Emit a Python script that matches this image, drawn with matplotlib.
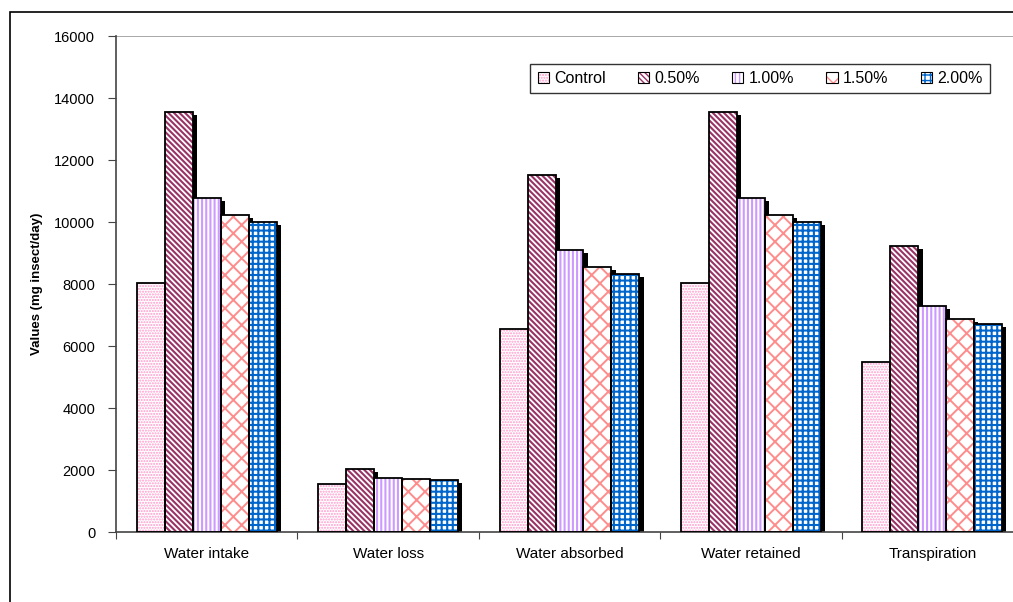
import matplotlib
matplotlib.use('Agg')
import matplotlib.pyplot as plt
from matplotlib.patches import Rectangle, Patch
import numpy as np

categories = ['Water intake', 'Water loss', 'Water absorbed', 'Water retained', 'Transpiration']
series_names = ['Control', '0.50%', '1.00%', '1.50%', '2.00%']

control = [8040, 1540, 6560, 8040, 5470]
conc_050 = [13540, 2020, 11520, 13540, 9240]
conc_100 = [10780, 1750, 9090, 10780, 7290]
conc_150 = [10240, 1710, 8540, 10240, 6880]
conc_200 = [10010, 1670, 8330, 10010, 6720]

values = [control, conc_050, conc_100, conc_150, conc_200]

# hatch styles picked to look like the old excel fill patterns
hatch_colors = ['#ff99cc', '#993366', '#cc99ff', '#ff8c8c', '#0066cc']
hatches = ['......', '\\\\\\\\\\\\', '||||', 'xx', '+++']
hatch_widths = [1.0, 1.5, 1.5, 1.4, 1.5]

plt.rcParams['font.family'] = ['Liberation Sans', 'DejaVu Sans']

fig = plt.figure(figsize=(10.13, 6.02), dpi=100)
ax = fig.add_axes([116 / 1013, 1 - 532 / 602, 907 / 1013, 496 / 602])

# outer frame (cut by the image edges on the right / bottom)
fig.patches.append(Rectangle((10 / 1013, -0.2), 1.2, 1.2 - 12 / 602,
                             transform=fig.transFigure, fill=False,
                             edgecolor='black', linewidth=1.2, zorder=0))

x = np.arange(len(categories))
width = 0.154
dx_shadow = 0.023
dy_shadow = 95

legend_handles = []
for i in range(len(series_names)):
    pos = x + (i - 2) * width
    vals = np.array(values[i])
    # drop shadow
    ax.bar(pos + dx_shadow, vals - dy_shadow, width=width, color='black',
           linewidth=0, zorder=1)
    with plt.rc_context({'hatch.linewidth': hatch_widths[i]}):
        ax.bar(pos, vals, width=width, color='white', edgecolor=hatch_colors[i],
               hatch=hatches[i], linewidth=0, zorder=2 + i * 0.1)
        h1 = Patch(facecolor='white', edgecolor=hatch_colors[i], hatch=hatches[i], linewidth=0)
    ax.bar(pos, vals, width=width, fill=False, edgecolor='black',
           linewidth=1.3, zorder=3 + i * 0.1)
    h2 = Patch(fill=False, edgecolor='black', linewidth=0.8)
    legend_handles.append((h1, h2))

ax.set_xlim(-0.5, len(categories) - 0.5)
ax.set_ylim(0, 16000)
ax.set_yticks(np.arange(0, 16001, 2000))
ax.axhline(16000, color='#999999', linewidth=1.2, zorder=0)

ax.set_xticks(np.arange(-0.5, len(categories), 1.0))
ax.set_xticklabels([])
ax.set_xticks(x, minor=True)
ax.set_xticklabels(categories, minor=True, fontsize=11)
ax.tick_params(axis='x', which='minor', length=0, pad=11)
ax.tick_params(axis='x', which='major', direction='out', length=5, color='#444444')
ax.tick_params(axis='y', direction='out', length=6, labelsize=10.5, color='#444444', pad=9)

for s in ['top', 'right']:
    ax.spines[s].set_visible(False)
ax.spines['left'].set_color('#444444')
ax.spines['bottom'].set_color('#444444')
ax.spines['left'].set_linewidth(1.2)
ax.spines['bottom'].set_linewidth(1.2)

ax.set_ylabel('Values (mg insect/day)', fontsize=9.5, fontweight='bold', labelpad=8)

leg = ax.legend(legend_handles, series_names, ncol=5, loc='upper right',
                bbox_to_anchor=(990 / 1013, 1 - 64 / 602), bbox_transform=fig.transFigure,
                fontsize=11.5, frameon=True, fancybox=False, edgecolor='black',
                handlelength=0.7, handleheight=0.7, handletextpad=0.35,
                columnspacing=2.0, borderpad=0.45, borderaxespad=0)
leg.get_frame().set_linewidth(1.0)

fig.savefig('out.png', dpi=100)
